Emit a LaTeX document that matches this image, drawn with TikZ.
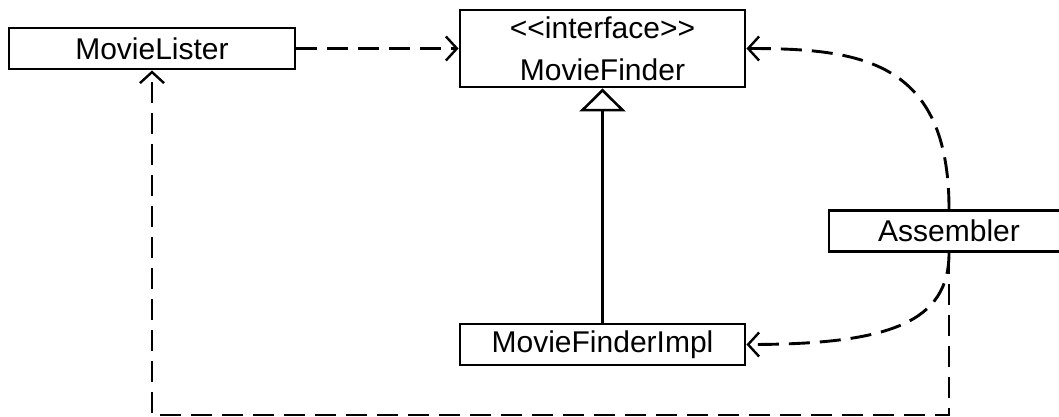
\documentclass[tikz,border=0pt]{standalone}
\usepackage{fontspec}
\newfontfamily\umlfont{Liberation Sans}
\usetikzlibrary{arrows.meta}
\tikzset{
  umlbox/.style={draw, line width=2.9pt, inner sep=0pt, align=center,
    font=\umlfont\fontsize{30}{42}\selectfont},
  dep/.style={line width=2.9pt, dash pattern=on 21pt off 10pt,
    -{Straight Barb[length=11pt,width=24pt,line width=2.4pt]}},
  gen/.style={line width=2.9pt,
    -{Triangle[open,length=23pt,width=46pt,line width=2.6pt,fill=white]}}
}
\begin{document}
\begin{tikzpicture}[x=1pt,y=-1pt]
\useasboundingbox[fill=white] (0,0) rectangle (1059,417);
\node[umlbox, minimum width=286pt, minimum height=41pt] (lister) at (152,48.5) {MovieLister};
\node[umlbox, minimum width=285pt, minimum height=77pt] (finder) at (602.5,48.5) {<<interface>>\\MovieFinder};
\node[umlbox, minimum width=285pt, minimum height=41pt] (impl) at (602.5,344.5) {MovieFinderImpl};
\node[umlbox, minimum width=240pt, minimum height=41pt] (asm) at (949,231) {Assembler};
\draw[dep] (lister.east) -- (finder.west);
\draw[gen] (impl.north) -- (finder.south);
\draw[dep] (asm.north) .. controls (949,60) and (860,48.5) .. (finder.east);
\draw[dep] (asm.south) .. controls (949,322) and (890,344.5) .. (impl.east);
\coordinate (corner) at (949,415);
\draw[dep] (asm.south) -- (corner) -| (lister.south);
\end{tikzpicture}
\end{document}
